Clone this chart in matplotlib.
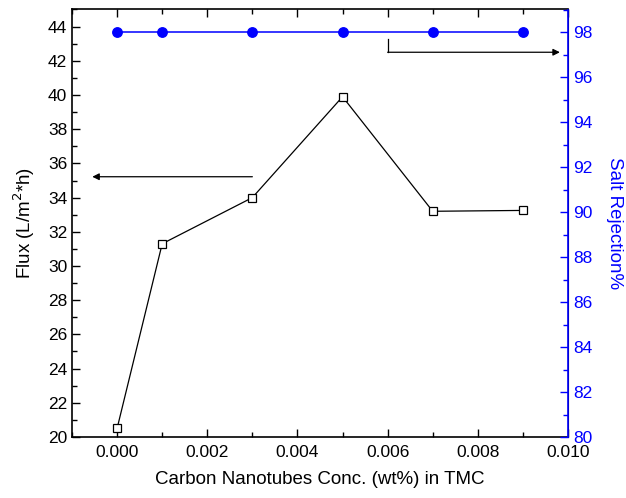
import matplotlib
matplotlib.use("Agg")
import matplotlib.pyplot as plt
from matplotlib.ticker import MultipleLocator

plt.rcParams['font.family'] = ['Liberation Sans', 'DejaVu Sans']

conc = [0.000, 0.001, 0.003, 0.005, 0.007, 0.009]
flux = [20.5, 31.3, 34.0, 39.9, 33.2, 33.25]
rejection = [98.0, 98.0, 98.0, 98.0, 98.0, 98.0]

fig = plt.figure(figsize=(6.26, 4.98), dpi=100)
ax = fig.add_axes([72/626, 1 - 437/498, (568-72)/626, (437-9.5)/498])
ax2 = ax.twinx()

ax.plot(conc, flux, color='black', lw=0.9, marker='s', ms=5.5,
        mfc='white', mec='black', mew=0.9, zorder=3)
ax2.plot(conc, rejection, color='blue', lw=1.1, marker='o', ms=6.8,
         mfc='blue', mec='blue', zorder=3)

ax.set_xlim(-0.001, 0.010)
ax.set_ylim(20, 45)
ax2.set_ylim(80, 99)

ax.xaxis.set_major_locator(MultipleLocator(0.002))
ax.xaxis.set_minor_locator(MultipleLocator(0.001))
ax.yaxis.set_major_locator(MultipleLocator(2))
ax.yaxis.set_minor_locator(MultipleLocator(1))
ax2.yaxis.set_major_locator(MultipleLocator(2))
ax2.yaxis.set_minor_locator(MultipleLocator(1))
ax.xaxis.set_major_formatter(plt.FormatStrFormatter('%.3f'))

ax.tick_params(axis='x', which='both', direction='in', top=True, labelsize=12.5, pad=6)
ax.tick_params(axis='x', which='major', length=6, width=1)
ax.tick_params(axis='x', which='minor', length=3.5, width=1)
ax.tick_params(axis='y', which='major', direction='in', length=6, width=1, labelsize=12.5)
ax.tick_params(axis='y', which='minor', direction='in', length=3.5, width=1)
ax2.tick_params(axis='y', which='major', direction='in', length=6, width=1,
                colors='blue', labelsize=12.5)
ax2.tick_params(axis='y', which='minor', direction='in', length=3.5, width=1, colors='blue')

for s in ['left', 'bottom', 'top']:
    ax.spines[s].set_linewidth(1.2)
ax2.spines['right'].set_color('blue')
ax2.spines['right'].set_linewidth(1.2)
for s in ['left', 'bottom', 'top']:
    ax2.spines[s].set_visible(False)

ax.set_xlabel('Carbon Nanotubes Conc. (wt%) in TMC', fontsize=13.5, labelpad=8)
ax.set_ylabel('Flux (L/m$^2$*h)', fontsize=13.5, labelpad=8)
ax2.set_ylabel('Salt Rejection%', fontsize=13.5, color='blue', rotation=270, labelpad=22)

# arrows
ax.annotate('', xy=(-0.00055, 35.22), xytext=(0.003, 35.22),
            arrowprops=dict(arrowstyle='-|>', color='black', lw=0.9,
                            mutation_scale=10, shrinkA=0, shrinkB=0))
ax2.plot([0.006, 0.006], [97.7, 97.1], color='black', lw=0.9)
ax2.annotate('', xy=(0.00982, 97.1), xytext=(0.006, 97.1),
             arrowprops=dict(arrowstyle='-|>', color='black', lw=0.9,
                             mutation_scale=10, shrinkA=0, shrinkB=0))

fig.savefig('out.png', dpi=100)
